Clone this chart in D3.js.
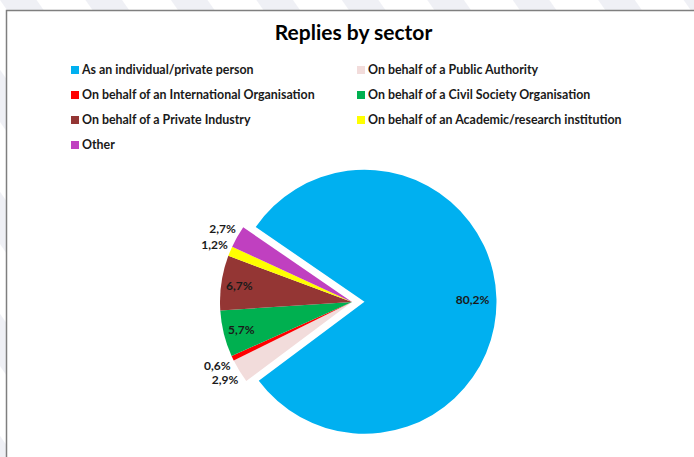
<!DOCTYPE html>
<html>
<head>
<meta charset="utf-8">
<script src="https://cdn.jsdelivr.net/npm/d3@7"></script>
<style>
  html, body { margin: 0; padding: 0; background: #fff; }
  svg { display: block; }
  text { font-family: Lato, "Open Sans", sans-serif; }
</style>
</head>
<body>
<script>
const title = "Replies by sector";
const categories = [
  "As an individual/private person",
  "On behalf of a Public Authority",
  "On behalf of an International Organisation",
  "On behalf of a Civil Society Organisation",
  "On behalf of a Private Industry",
  "On behalf of an Academic/research institution",
  "Other"
];
const values = [80.2, 2.9, 0.6, 5.7, 6.7, 1.2, 2.7];
const colors = ["#00B0F0", "#F2DCDB", "#FF0000", "#00B050", "#943634", "#FFFF00", "#C040C0"];

const W = 694, H = 457;
const svg = d3.select("body").append("svg").attr("width", W).attr("height", H);

// slide background stripes outside frame
const defs = svg.append("defs");
const pat = defs.append("pattern").attr("id", "stripes").attr("patternUnits", "userSpaceOnUse")
  .attr("width", 70).attr("height", 70).attr("patternTransform", "rotate(-35)");
pat.append("rect").attr("width", 70).attr("height", 70).attr("fill", "#ffffff");
pat.append("rect").attr("width", 30).attr("height", 70).attr("fill", "#eff0f5");
svg.append("rect").attr("x", 0).attr("y", 0).attr("width", W).attr("height", 10).attr("fill", "url(#stripes)");
svg.append("rect").attr("x", 0).attr("y", 0).attr("width", 6).attr("height", H).attr("fill", "url(#stripes)");
svg.append("rect").attr("x", 6).attr("y", 10).attr("width", W - 6).attr("height", H - 10).attr("fill", "#fff");
svg.append("path").attr("d", `M6.5,${H} V10.5 H${W}`).attr("fill", "none").attr("stroke", "#7f7f7f").attr("stroke-width", 1.5);

// title
svg.append("text").attr("x", 353.5).attr("y", 40).attr("text-anchor", "middle")
  .attr("font-size", 21).attr("font-weight", 700).attr("fill", "#000").text(title);

// legend
const legend = svg.append("g");
const colX = [71, 357];
const rowY0 = 70, rowStep = 25;
categories.forEach((c, i) => {
  const x = colX[i % 2], y = rowY0 + Math.floor(i / 2) * rowStep;
  legend.append("rect").attr("x", x).attr("y", y - 4).attr("width", 8).attr("height", 8).attr("fill", colors[i]);
  legend.append("text").attr("x", x + 11).attr("y", y).attr("dy", "0.36em")
    .attr("font-size", 12.4).attr("font-weight", 700).attr("fill", "#1a1a1a").text(c);
});

// pie
const cx = 352, cy = 302, R = 132, explode = 12.5;
const a0 = 304.5 * Math.PI / 180;
const pie = d3.pie().sort(null).value(d => d).startAngle(a0).endAngle(a0 + 2 * Math.PI);
const arcs = pie(values);
const arc = d3.arc().innerRadius(0).outerRadius(R);
const g = svg.append("g").attr("transform", `translate(${cx},${cy})`);
const off = (d, i) => {
  if (i !== 0) return [0, 0];
  const m = (d.startAngle + d.endAngle) / 2;
  return [Math.sin(m) * explode, -Math.cos(m) * explode];
};
g.selectAll("path.slice").data(arcs).enter().append("path").attr("class", "slice")
  .attr("d", arc).attr("fill", (d, i) => colors[i])
  .attr("transform", (d, i) => `translate(${off(d, i)})`);

const fmt = v => d3.format(".1f")(v).replace(".", ",") + "%";
const labelArc = r => d3.arc().innerRadius(r).outerRadius(r);
g.selectAll("text.lbl").data(arcs).enter().append("text").attr("class", "lbl")
  .attr("transform", (d, i) => {
    const r = i === 0 ? 108 : (d.data < 4 ? 149 : 114);
    const c = labelArc(r).centroid(d);
    const o = off(d, i);
    return `translate(${c[0] + o[0]},${c[1] + o[1]})`;
  })
  .attr("text-anchor", "middle").attr("dy", "0.36em")
  .attr("font-size", 12).attr("font-weight", 700).attr("fill", "#1a1a1a")
  .text(d => fmt(d.data));
</script>
</body>
</html>
